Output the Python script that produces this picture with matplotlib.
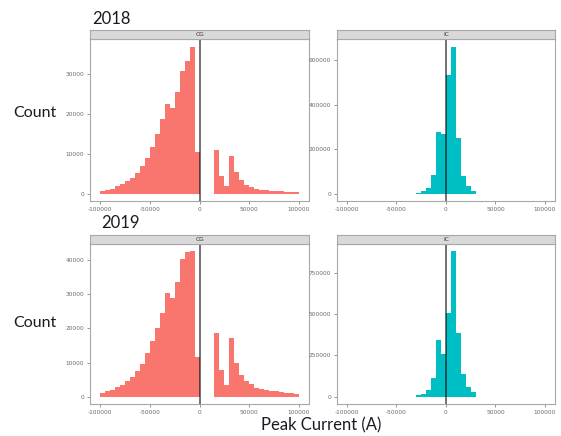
import numpy as np
import matplotlib
matplotlib.use("Agg")
import matplotlib.pyplot as plt

# Peak current histograms (5 kA bins), cloud-to-ground (CG) and intracloud (IC)
years = ["2018", "2019"]
cg_edges = np.arange(-100000, 100001, 5000)
ic_edges = np.arange(-30000, 30001, 5000)

cg_2018 = [700, 1000, 1250, 1850, 2400, 3100, 3850, 5150, 7000, 9000,
           11750, 15000, 18650, 22400, 21400, 25600, 30850, 33350, 36850, 10400,
           0, 0, 0, 10850, 4350, 1850, 9400, 5350, 3500, 2250, 1650,
           1250, 1000, 850, 750, 650, 600, 500, 400, 350]
cg_2019 = [1150, 1650, 2000, 2700, 3550, 4500, 5750, 7500, 9500, 12800,
           16150, 20000, 24350, 30300, 28850, 33550, 40100, 42300, 42500, 11750,
           0, 0, 0, 18550, 7700, 3550, 17100, 9900, 6450, 4500, 3650,
           2600, 2200, 1900, 1750, 1550, 1350, 1150, 950, 750]
ic_2018 = [4500, 10400, 25400, 82000, 279000, 267000,
           533000, 661000, 248000, 80600, 32800, 12000]
ic_2019 = [7900, 15900, 39800, 111400, 344000, 260600,
           503000, 879000, 384000, 137000, 61700, 29800]

x_ticks = [-100000, -50000, 0, 50000, 100000]
y_ticks = {
    ("2018", "CG"): [0, 10000, 20000, 30000],
    ("2018", "IC"): [0, 200000, 400000, 600000],
    ("2019", "CG"): [0, 10000, 20000, 30000, 40000],
    ("2019", "IC"): [0, 250000, 500000, 750000],
}
panels = {
    ("2018", "CG"): (cg_edges, cg_2018),
    ("2018", "IC"): (ic_edges, ic_2018),
    ("2019", "CG"): (cg_edges, cg_2019),
    ("2019", "IC"): (ic_edges, ic_2019),
}
colors = {"CG": "#F8766D", "IC": "#00BFC4"}

W, H = 561, 436
fig = plt.figure(figsize=(W / 100, H / 100), dpi=100)
fig.patch.set_facecolor("white")

def fx(px):
    return px / W

def fy(py):
    return 1 - py / H

# pixel geometry of the facet grid
col_x = {"CG": (90, 309), "IC": (336.7, 555)}
row_y = {"2018": (30, 39.3, 201), "2019": (235, 244, 404)}

tick_gray = "#6b6b6b"
border_gray = "#a8a8a8"

for (year, kind), (edges, counts) in panels.items():
    x0, x1 = col_x[kind]
    s_top, p_top, p_bot = row_y[year]
    ax = fig.add_axes([fx(x0), fy(p_bot), fx(x1 - x0), (p_bot - p_top) / H])
    ax.bar(edges[:-1], counts, width=np.diff(edges), align="edge",
           color=colors[kind], edgecolor="none", linewidth=0)
    ax.axvline(0, color="black", alpha=0.6, linewidth=1.3)
    ymax = max(counts)
    ax.set_ylim(-0.05 * ymax, 1.05 * ymax)
    ax.set_xlim(-110000, 110000)
    ax.set_xticks(x_ticks)
    ax.set_xticklabels([str(v) for v in x_ticks])
    ax.set_yticks(y_ticks[(year, kind)])
    ax.set_yticklabels([str(v) for v in y_ticks[(year, kind)]])
    ax.tick_params(labelsize=4.2, colors=tick_gray, length=2.5, width=0.5, pad=1.5)
    for sp in ax.spines.values():
        sp.set_color(border_gray)
        sp.set_linewidth(0.8)

    # facet strip
    sax = fig.add_axes([fx(x0), fy(p_top), fx(x1 - x0), (p_top - s_top) / H])
    sax.set_facecolor("#d9d9d9")
    sax.set_xticks([])
    sax.set_yticks([])
    for sp in sax.spines.values():
        sp.set_color(border_gray)
        sp.set_linewidth(0.8)
    sax.text(0.5, 0.5, kind, ha="center", va="center", fontsize=4.2,
             color="#333333", transform=sax.transAxes)

label_font = dict(family="Lato", color="#1a1a24")
fig.text(fx(92), fy(19), "2018", ha="left", va="center", fontsize=12, **label_font)
fig.text(fx(101), fy(223), "2019", ha="left", va="center", fontsize=12, **label_font)
fig.text(fx(13), fy(113), "Count", ha="left", va="center", fontsize=11.5, **label_font)
fig.text(fx(13), fy(323), "Count", ha="left", va="center", fontsize=11.5, **label_font)
fig.text(fx(321), fy(425), "Peak Current (A)", ha="center", va="center",
         fontsize=12, **label_font)

fig.savefig("out.png", dpi=100, facecolor="white")
